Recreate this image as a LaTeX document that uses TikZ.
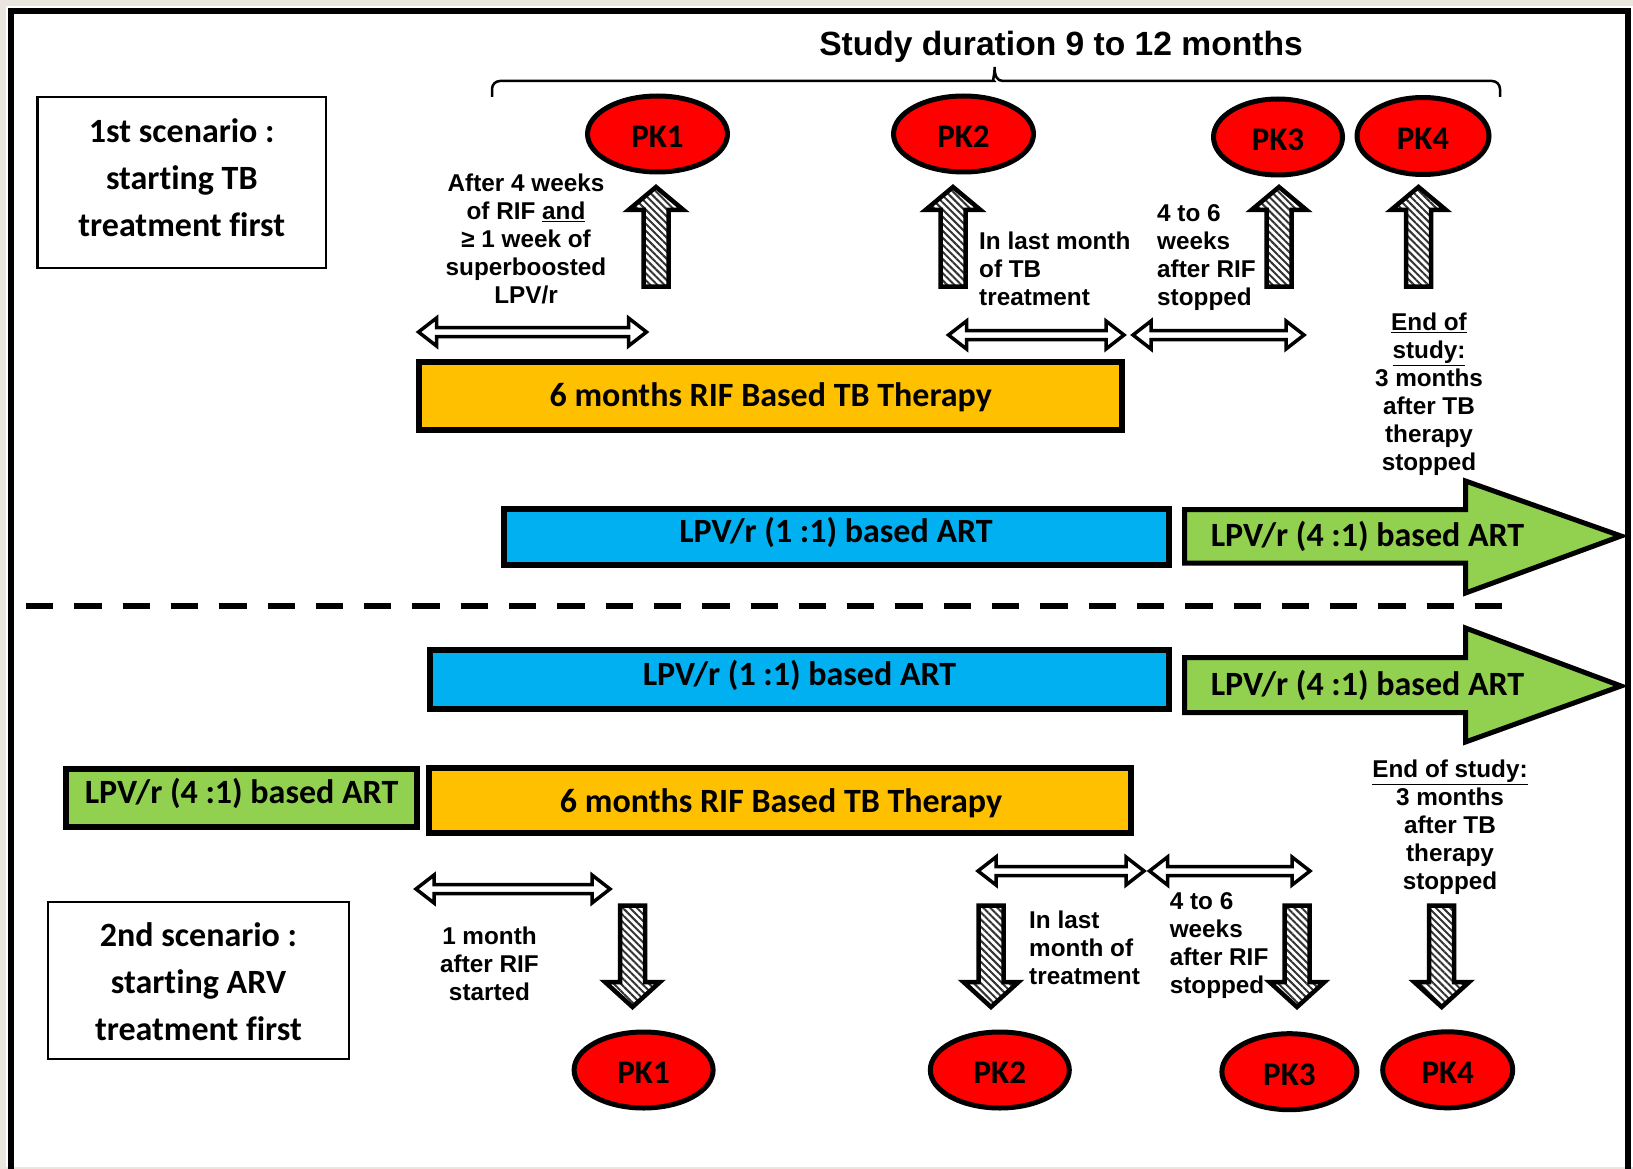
\documentclass[tikz,border=0pt]{standalone}
\usepackage{fontspec}
\setmainfont{Liberation Sans}
\newfontfamily\calfont[Ligatures=NoCommon]{Carlito}
\usetikzlibrary{shapes.geometric,patterns.meta}
\definecolor{tborange}{HTML}{FFC000}
\definecolor{artblue}{HTML}{00B0F0}
\definecolor{artgreen}{HTML}{92D050}
\definecolor{pkred}{HTML}{FF0000}
\definecolor{edgebeige}{HTML}{EAE6DE}
\tikzset{
  lbl/.style={font=\bfseries\fontsize{24.3}{28}\selectfont, inner sep=0pt, align=center},
  lblleft/.style={font=\bfseries\fontsize{24.3}{28}\selectfont, inner sep=0pt, align=left, anchor=west},
  cal/.style={font=\calfont\bfseries\fontsize{34}{40}\selectfont, inner sep=0pt},
  scenbox/.style={draw=black, line width=2.5pt, inner sep=0pt},
  scentxt/.style={inner sep=0pt, align=center, font=\calfont\bfseries\fontsize{34}{47}\selectfont},
  bar/.style={draw=black, line width=6pt, inner sep=0pt},
  pk/.style={ellipse, draw=black, line width=5pt, fill=pkred, inner sep=0pt, text height=27pt, text depth=0pt, font=\calfont\bfseries\fontsize{33}{40}\selectfont},
  dbl/.style={draw=black, line width=3.5pt, fill=white, line join=miter},
  hatch/.style={draw=black, line width=4.5pt, line join=miter, preaction={fill=white},
    pattern={Lines[angle=-45,distance=5pt,line width=2pt]}, pattern color=black!80},
  greenarr/.style={draw=black, line width=5pt, fill=artgreen, line join=miter},
  bracestyle/.style={draw=black, line width=2.5pt},
}
\newcommand\dblarr[3]{%
  \draw[dbl] (#1,#3) -- ({#1+18},{#3-14}) -- ({#1+18},{#3-4.5}) -- ({#2-18},{#3-4.5}) -- ({#2-18},{#3-14}) -- (#2,#3) -- ({#2-18},{#3+14}) -- ({#2-18},{#3+4.5}) -- ({#1+18},{#3+4.5}) -- ({#1+18},{#3+14}) -- cycle;}
\newcommand\hatcharr[4]{%
  \draw[hatch] ({#1-12.5},#4) -- ({#1-12.5},#3) -- ({#1-27.5},#3) -- (#1,#2) -- ({#1+27.5},#3) -- ({#1+12.5},#3) -- ({#1+12.5},#4) -- cycle;}
\begin{document}
\begin{tikzpicture}[x=1pt,y=-1pt]
\useasboundingbox (0,0) rectangle (1633,1169);
\fill[edgebeige] (0,0) rectangle (1633,1169);
\fill[white] (6,6) rectangle (1633,1167);
\begin{scope}
\clip (0,0) rectangle (1633,1169);
\draw[line width=6pt] (11,11) rectangle (1627.5,1180);
\end{scope}

% ---------- top: study duration ----------
\node[font=\bfseries\fontsize{33.6}{40}\selectfont, inner sep=0pt] (study) at (1061,47) {Study duration 9 to 12 months};
\draw[bracestyle] (492,97) [rounded corners=8pt] |- (986,81) [sharp corners] .. controls (992,81) and (994.6,76) .. (994.6,67) .. controls (994.6,76) and (997,81) .. (1003,81) [rounded corners=8pt] -| (1500,97);

% ---------- scenario 1 ----------
\node[scenbox, minimum width=288.5pt, minimum height=171pt] (scen1) at (181.8,182.5) {};
\node[scentxt] (scen1txt) at (181.8,177.5) {1st scenario :\\starting TB\\treatment first};

\node[pk, minimum width=140pt, minimum height=76pt] (pk1t) at (657.5,134) {PK1};
\node[pk, minimum width=140pt, minimum height=76pt] (pk2t) at (963.5,134) {PK2};
\node[pk, minimum width=129pt, minimum height=76pt] (pk3t) at (1278,137) {PK3};
\node[pk, minimum width=132pt, minimum height=77pt] (pk4t) at (1423,136) {PK4};

\hatcharr{656}{187}{210}{286.5}
\hatcharr{953}{187}{210}{286.5}
\hatcharr{1279}{187}{210}{286.5}
\hatcharr{1418.5}{187}{210}{286.5}

\node[lbl] (lab1t) at (526,239) {After 4 weeks\\of RIF \underline{and}\\≥ 1 week of\\superboosted\\LPV/r};
\node[lblleft] (lab2t) at (979,269) {In last month\\of TB\\treatment};
\node[lblleft] (lab3t) at (1157,258) {4 to 6\\weeks\\after RIF\\stopped};
\node[lbl] (lab4t) at (1429,394.5) {\underline{End of}\\\underline{study:}\\3 months\\after TB\\therapy\\stopped};

\dblarr{418.5}{646.5}{332}
\dblarr{948.5}{1124}{335}
\dblarr{1133}{1304}{335}

\node[bar, fill=tborange, minimum width=703pt, minimum height=68pt] (tb1) at (770.2,396.3) {};
\node[cal] (tb1txt) at (770.7,397) {6 months RIF Based TB Therapy};

\node[bar, fill=artblue, minimum width=664.7pt, minimum height=55.6pt] (art1a) at (836.4,536.8) {};
\node[cal] (art1atxt) at (836,532) {LPV/r (1 :1) based ART};

\draw[greenarr] (1184.5,509.5) -- (1465.5,509.5) -- (1465.5,481) -- (1621,536) -- (1465.5,593) -- (1465.5,563) -- (1184.5,563) -- cycle;
\node[cal] (art1btxt) at (1367.5,536) {LPV/r (4 :1) based ART};

% ---------- divider ----------
\draw[line width=6.5pt, dash pattern=on 27.3pt off 21pt] (26,606) -- (1502,606);

% ---------- scenario 2 ----------
\node[bar, fill=artblue, minimum width=738.7pt, minimum height=59.5pt] (art2a) at (799.4,679.3) {};
\node[cal] (art2atxt) at (799.5,675) {LPV/r (1 :1) based ART};

\draw[greenarr] (1184.5,657.5) -- (1465.5,657.5) -- (1465.5,628) -- (1621,686) -- (1465.5,742) -- (1465.5,712.5) -- (1184.5,712.5) -- cycle;
\node[cal] (art2btxt) at (1367.5,685) {LPV/r (4 :1) based ART};

\node[bar, fill=artgreen, minimum width=351pt, minimum height=58.5pt] (art2c) at (241.5,797.8) {};
\node[cal] (art2ctxt) at (241.6,793) {LPV/r (4 :1) based ART};

\node[bar, fill=tborange, minimum width=702.3pt, minimum height=65.3pt] (tb2) at (779.9,800.6) {};
\node[cal] (tb2txt) at (781,803) {6 months RIF Based TB Therapy};

\node[lbl] (lab4b) at (1450,827) {\underline{End of study:}\\3 months\\after TB\\therapy\\stopped};

\dblarr{416}{610}{889}
\dblarr{978}{1144}{871}
\dblarr{1149.5}{1310}{871}

\node[lbl] (lab1b) at (489.5,964) {1 month\\after RIF\\started};
\node[lblleft] (lab2b) at (1029,948) {In last\\month of\\treatment};
\node[lblleft] (lab3b) at (1169.6,946) {4 to 6\\weeks\\after RIF\\stopped};

\hatcharr{632.5}{1007}{982}{905.5}
\hatcharr{991}{1007}{982}{905.5}
\hatcharr{1297}{1007}{982}{905.5}
\hatcharr{1441.7}{1007}{982}{905.5}

\node[scenbox, minimum width=301pt, minimum height=157pt] (scen2) at (198.5,980.5) {};
\node[scentxt] (scen2txt) at (198.5,981.5) {2nd scenario :\\starting ARV\\treatment first};

\node[pk, minimum width=139pt, minimum height=76pt] (pk1b) at (643.6,1070) {PK1};
\node[pk, minimum width=139pt, minimum height=76pt] (pk2b) at (999.8,1070) {PK2};
\node[pk, minimum width=135pt, minimum height=76pt] (pk3b) at (1289.4,1071.7) {PK3};
\node[pk, minimum width=130pt, minimum height=76pt] (pk4b) at (1447.7,1069.8) {PK4};
\end{tikzpicture}
\end{document}
